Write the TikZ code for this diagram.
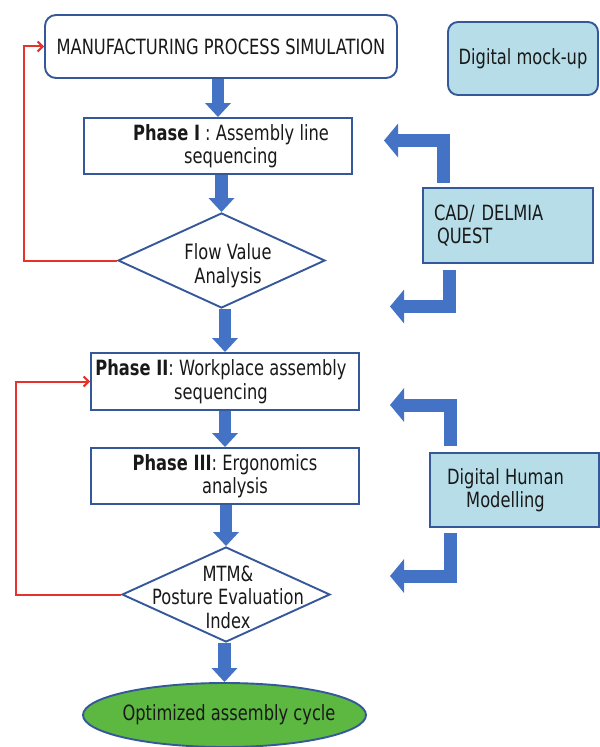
\documentclass[tikz,border=0pt]{standalone}
\usepackage{fontspec}
\setmainfont{DejaVu Sans}[FakeStretch=0.775]
\usetikzlibrary{shapes.geometric,arrows.meta}
\definecolor{edge}{HTML}{34589A}
\definecolor{flow}{HTML}{4472C4}
\definecolor{tool}{HTML}{B7DEE8}
\definecolor{goal}{HTML}{5DB841}
\definecolor{loop}{HTML}{E5322B}
\begin{document}
\begin{tikzpicture}[x=1bp,y=-1bp,
  every node/.style={font=\fontsize{21bp}{23.5bp}\selectfont, text=black!90},
  box/.style={draw=edge, line width=1.9bp, fill=white, inner sep=0, align=center},
  toolbox/.style={box, fill=tool},
  dec/.style={draw=edge, line width=1.9bp, fill=white, diamond, inner sep=0},
  lbl/.style={align=center, inner sep=0},
  down/.style={draw=flow, line width=12.5bp, -{Triangle[length=14bp,width=25bp]}},
  bent/.style={draw=flow, line width=13bp, line join=miter, -{Triangle[length=14bp,width=33bp]}},
  back/.style={draw=loop, line width=2bp, -{Straight Barb[length=5bp,width=10bp]}}
]
\useasboundingbox (0,0) rectangle (600,747);

% nodes
\node[box, rounded corners=11bp, minimum width=352bp, minimum height=63bp] (top) at (221,46.5) {MANUFACTURING PROCESS SIMULATION};
\node[toolbox, rounded corners=10bp, minimum width=150bp, minimum height=73bp] (dmu) at (523,58.5) {Digital mock-up};
\node[box, minimum width=268bp, minimum height=56bp] (p1) at (218,146) {\hspace*{26bp}\textbf{Phase I} : Assembly line\\\hspace*{26bp}sequencing};
\node[dec, minimum width=207bp, minimum height=95bp] (d1) at (221.5,260.5) {};
\node[lbl] (d1t) at (228,265.5) {Flow Value\\Analysis};
\node[toolbox, minimum width=170bp, minimum height=75bp, text width=148bp, align=left] (cad) at (508,225.5) {CAD/ DELMIA\\\hspace*{3bp}QUEST};
\node[box, minimum width=268bp, minimum height=57bp] (p2) at (225,381.5) {\textbf{Phase II}: Workplace assembly\hspace*{8bp}\\sequencing\hspace*{8bp}};
\node[box, minimum width=268bp, minimum height=56bp] (p3) at (225,476) {\textbf{Phase III}: Ergonomics\\\hspace*{20bp}analysis};
\node[toolbox, minimum width=169bp, minimum height=74bp] (dhm) at (514.5,490) {Digital Human\hspace*{18bp}\\Modelling\hspace*{18bp}};
\node[dec, minimum width=208bp, minimum height=95bp] (d2) at (226,594.5) {};
\node[lbl] (d2t) at (228,597) {MTM\&\\Posture Evaluation\\Index};
\node[draw=edge, line width=1.9bp, fill=goal, ellipse, inner sep=0, minimum width=283bp, minimum height=64bp] (end) at (224.5,715) {};
\node[lbl] (endt) at (229,714.5) {Optimized assembly cycle};

% main flow arrows
\draw[down] (p1.north |- top.south) -- (p1.north);
\draw[down] (d1.north |- p1.south) -- (d1.north);
\draw[down] (p2.north |- d1.south) -- (p2.north);
\draw[down] (p3.north |- p2.south) -- (p3.north);
\draw[down] (d2.north |- p3.south) -- (d2.north);
\draw[down] (end.north |- d2.south) -- (end.north);

% tool arrows
\coordinate (c1s) at (443.5,183);
\coordinate (c1t) at (384,140.5);
\coordinate (c2s) at (449.5,270);
\coordinate (c2t) at (390,306.5);
\coordinate (h1s) at (450,446);
\coordinate (h1t) at (390,405);
\coordinate (h2s) at (450,533);
\coordinate (h2t) at (390,576);
\draw[bent] (c1s) |- (c1t);
\draw[bent] (c2s) |- (c2t);
\draw[bent] (h1s) |- (h1t);
\draw[bent] (h2s) |- (h2t);

% feedback loops
\coordinate (l1) at (24,0);
\coordinate (l2) at (16,0);
\draw[back] (d1.west) -- (d1.west -| l1) |- (top.west);
\draw[back] (d2.west) -- (d2.west -| l2) |- (p2.west);
\end{tikzpicture}
\end{document}
